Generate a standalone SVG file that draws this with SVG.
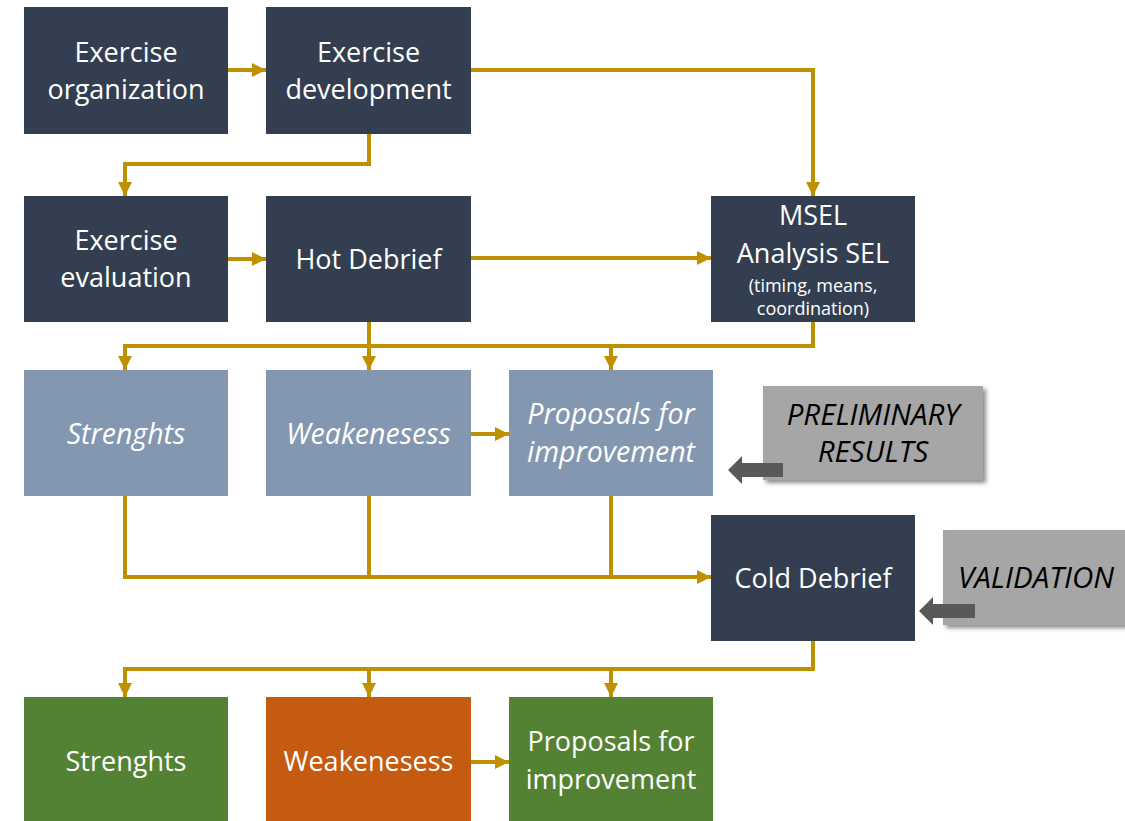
<svg xmlns="http://www.w3.org/2000/svg" width="1125" height="821" viewBox="0 0 1125 821">
<style>
.dark{fill:#333F50}
.light{fill:#8497B0}
.green{fill:#548235}
.orange{fill:#C55A11}
.gray{fill:#A6A6A6}
.t{font-family:"Open Sans","Liberation Sans",sans-serif;font-size:27px;fill:#FFFFFF;text-anchor:middle}
.s{font-size:18px}
.i{font-style:italic;font-size:28.5px}
.k{font-family:"Open Sans","Liberation Sans",sans-serif;font-size:29.5px;fill:#000000;text-anchor:middle;font-style:italic}
.c{fill:none;stroke:#BF9000;stroke-width:4;marker-end:url(#ah)}
.cn{fill:none;stroke:#BF9000;stroke-width:4}
.da{fill:#595959}
</style>
<defs>
<marker id="ah" viewBox="0 0 14 14" refX="14" refY="7" markerWidth="14" markerHeight="14" markerUnits="userSpaceOnUse" orient="auto">
<path d="M0,0 L14,7 L0,14 z" fill="#BF9000"/>
</marker>
<filter id="sh" x="-10%" y="-10%" width="130%" height="140%">
<feDropShadow dx="3" dy="3" stdDeviation="2" flood-color="#000000" flood-opacity="0.45"/>
</filter>
</defs>
<rect width="1125" height="821" fill="#FFFFFF"/>
<g id="connectors">
<path class="c" d="M228,70 H266"/>
<path class="c" d="M471,70 H813 V196"/>
<path class="c" d="M369,134 V164 H125 V196"/>
<path class="c" d="M228,259 H266"/>
<path class="c" d="M471,258 H711"/>
<path class="c" d="M813,322 V346 H125 V370"/>
<path class="c" d="M369,322 V370"/>
<path class="c" d="M611,346 V370"/>
<path class="c" d="M471,434 H509"/>
<path class="c" d="M125,496 V577 H711"/>
<path class="cn" d="M369,496 V577"/>
<path class="cn" d="M611,496 V577"/>
<path class="c" d="M813,641 V669 H125 V697"/>
<path class="c" d="M369,669 V697"/>
<path class="c" d="M611,669 V697"/>
<path class="c" d="M471,762 H509"/>
</g>
<g id="exercise-organization">
<rect class="dark" x="24" y="7" width="204" height="127"/>
<text class="t" x="126" y="62">Exercise</text>
<text class="t" x="126" y="99">organization</text>
</g>
<g id="exercise-development">
<rect class="dark" x="266" y="7" width="205" height="127"/>
<text class="t" x="368.5" y="62">Exercise</text>
<text class="t" x="368.5" y="99">development</text>
</g>
<g id="exercise-evaluation">
<rect class="dark" x="24" y="196" width="204" height="126"/>
<text class="t" x="126" y="250">Exercise</text>
<text class="t" x="126" y="287">evaluation</text>
</g>
<g id="hot-debrief">
<rect class="dark" x="266" y="196" width="205" height="126"/>
<text class="t" x="368.5" y="269">Hot Debrief</text>
</g>
<g id="msel">
<rect class="dark" x="711" y="196" width="204" height="126"/>
<text class="t" x="813" y="225">MSEL</text>
<text class="t" x="813" y="263">Analysis SEL</text>
<text class="t s" x="813" y="292">(timing, means,</text>
<text class="t s" x="813" y="315">coordination)</text>
</g>
<g id="strenghts-1">
<rect class="light" x="24" y="370" width="204" height="126"/>
<text class="t i" x="126" y="444">Strenghts</text>
</g>
<g id="weakenesess-1">
<rect class="light" x="266" y="370" width="205" height="126"/>
<text class="t i" x="368.5" y="444">Weakenesess</text>
</g>
<g id="proposals-1">
<rect class="light" x="509" y="370" width="204" height="126"/>
<text class="t i" x="611" y="424">Proposals for</text>
<text class="t i" x="611" y="462">improvement</text>
</g>
<g id="preliminary-results">
<rect class="gray" x="763" y="386" width="220" height="94" filter="url(#sh)"/>
<text class="k" x="873" y="425">PRELIMINARY</text>
<text class="k" x="873" y="462">RESULTS</text>
<path class="da" d="M783,463 V477 H742 V484 L728,470 L742,456 V463 Z"/>
</g>
<g id="cold-debrief">
<rect class="dark" x="711" y="515" width="204" height="126"/>
<text class="t" x="813" y="588">Cold Debrief</text>
</g>
<g id="validation">
<rect class="gray" x="943" y="530" width="200" height="95" filter="url(#sh)"/>
<text class="k" x="1036" y="588">VALIDATION</text>
<path class="da" d="M975,604 V618 H933 V625 L919,611 L933,597 V604 Z"/>
</g>
<g id="strenghts-2">
<rect class="green" x="24" y="697" width="204" height="125"/>
<text class="t" x="126" y="771">Strenghts</text>
</g>
<g id="weakenesess-2">
<rect class="orange" x="266" y="697" width="205" height="125"/>
<text class="t" x="368.5" y="771">Weakenesess</text>
</g>
<g id="proposals-2">
<rect class="green" x="509" y="697" width="204" height="125"/>
<text class="t" x="611" y="751">Proposals for</text>
<text class="t" x="611" y="789">improvement</text>
</g>
</svg>
